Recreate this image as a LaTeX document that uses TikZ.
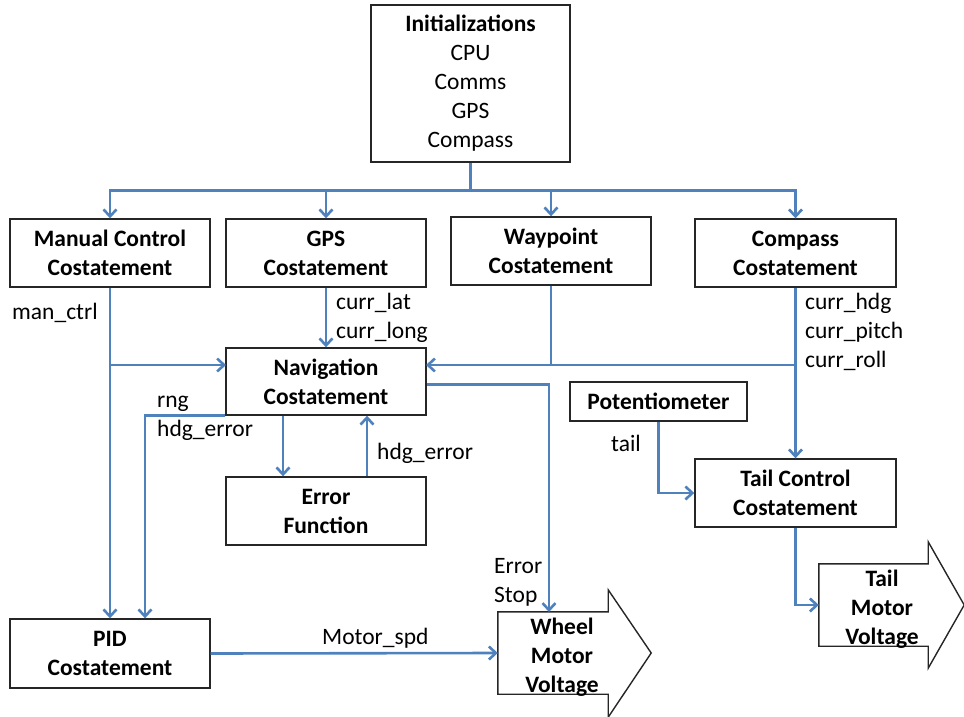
\documentclass[tikz,border=0pt]{standalone}
\usepackage{fontspec}
\setmainfont{Carlito}
\usetikzlibrary{arrows.meta}
\definecolor{linkblue}{HTML}{4F81BD}

\begin{document}
\begin{tikzpicture}[
            > = {Straight Barb[length=7pt,width=13pt]}, % arrow head style
            x = 1pt, y = -1pt, % one unit per pixel, y runs down
            font = \fontsize{23.5}{29}\selectfont,
            line join = miter
        ]

        \tikzstyle{block}=[
            draw = black!85,
            line width = 1.4pt,
            minimum width = 200pt,
            minimum height = 68pt,
            inner sep = 0pt,
            align = center,
            font = \fontsize{23.5}{29}\selectfont\bfseries
        ]
        \tikzstyle{link}=[draw = linkblue, line width = 2.6pt]
        \tikzstyle{outline}=[draw = black!85, line width = 1.4pt]
        \tikzstyle{tag}=[anchor = west, align = left, inner sep = 0pt]

        \useasboundingbox (0,0) rectangle (964,717);

        % boxes
        \node[block, minimum width = 199pt, minimum height = 157pt,
              font = \fontsize{23.5}{29}\selectfont] (init) at (470.5,83.5)
              {\textbf{Initializations}\\CPU\\Comms\\GPS\\Compass};
        \node[block] (manual) at (110,253) {Manual Control\\Costatement};
        \node[block] (gps) at (326,253) {GPS\\Costatement};
        \node[block] (waypoint) at (551,251) {Waypoint\\Costatement};
        \node[block, minimum width = 201pt] (compass) at (795.5,253) {Compass\\Costatement};
        \node[block, minimum height = 67pt] (nav) at (326,381.5) {Navigation\\Costatement};
        \node[block] (errfn) at (326,511) {Error\\Function};
        \node[block, minimum height = 69pt] (pid) at (110,653.5) {PID\\Costatement};
        \node[block, minimum width = 177pt, minimum height = 39pt] (pot) at (658.5,401.5) {Potentiometer};
        \node[block, minimum width = 201pt] (tailctl) at (795.5,493) {Tail Control\\Costatement};

        % block arrows (body as node, head drawn on it)
        \node[minimum width = 110pt, minimum height = 82pt, inner sep = 0pt] (wheel) at (553,653) {};
        \draw[outline] (wheel.north west) -- (wheel.north east) -- ++(0,-22)
            -- ([xshift=43pt]wheel.east) -- ([yshift=-23pt]wheel.south east)
            -- (wheel.south east) -- (wheel.south west) -- cycle;
        \node[align = center, inner sep = 0pt, font = \fontsize{23.5}{29}\selectfont\bfseries]
            (wheeltxt) at (562,657) {Wheel\\Motor\\Voltage};

        \node[minimum width = 109pt, minimum height = 82pt, inner sep = 0pt] (tailmot) at (873.5,605) {};
        \draw[outline] (tailmot.north west) -- (tailmot.north east) -- ++(0,-22)
            -- ([xshift=36pt]tailmot.east) -- ([yshift=-22pt]tailmot.south east)
            -- (tailmot.south east) -- (tailmot.south west) -- cycle;
        \node[align = center, inner sep = 0pt, font = \fontsize{23.5}{29}\selectfont\bfseries]
            (tailtxt) at (882,609) {Tail\\Motor\\Voltage};

        % fan out from the initializations
        \draw[link] (init.south) -- ++(0,28) coordinate (bus);
        \draw[link, ->] (bus) -| (manual.north);
        \draw[link, ->] (bus) -| (gps.north);
        \draw[link, ->] (bus) -| (waypoint.north);
        \draw[link, ->] (bus) -| (compass.north);

        % into navigation
        \coordinate (navL) at (226,365);
        \coordinate (navR) at (426,365);
        \draw[link, ->] (manual.south) -- (pid.north);
        \draw[link, ->] (manual.south |- navL) -- (navL);
        \draw[link, ->] (gps.south) -- (nav.north);
        \draw[link] (waypoint.south) -- (waypoint.south |- navR);
        \draw[link, ->] (compass.south |- navR) -- (navR);
        \draw[link, ->] (compass.south) -- (tailctl.north);

        % navigation and error function
        \draw[link, ->] ([xshift=-43pt]nav.south) -- ([xshift=-43pt]errfn.north);
        \draw[link, ->] ([xshift=41pt]errfn.north) -- ([xshift=41pt]nav.south);
        \draw[link, ->] (nav.south west) -| ([xshift=35pt]pid.north);
        \coordinate (wtop) at (549,612);
        \draw[link, ->] ([yshift=-3pt]nav.east) -| (wtop);
        \draw[link, ->] (pid.east) -- (wheel.west);

        % tail side
        \draw[link, ->] (pot.south) |- (tailctl.west);
        \draw[link, ->] (tailctl.south) |- (tailmot.west);

        % signal names
        \node[tag] (manctrl) at (12,313) {man\_ctrl};
        \node[tag] (latlong) at (336,317.5) {curr\_lat\\curr\_long};
        \node[tag] (attitude) at (805,331.5) {curr\_hdg\\curr\_pitch\\curr\_roll};
        \node[tag] (rnghdg) at (157,418.5) {rng\\hdg\_error};
        \node[tag] (hdgerr) at (377,453) {hdg\_error};
        \node[tag] (motorspd) at (322,638) {Motor\_spd};
        \node[tag] (errstop) at (494,582.5) {Error\\Stop};
        \node[tag] (tailsig) at (611,443) {tail};

        %\draw[red] (0,0) rectangle (964,717);
    \end{tikzpicture}
\end{document}
